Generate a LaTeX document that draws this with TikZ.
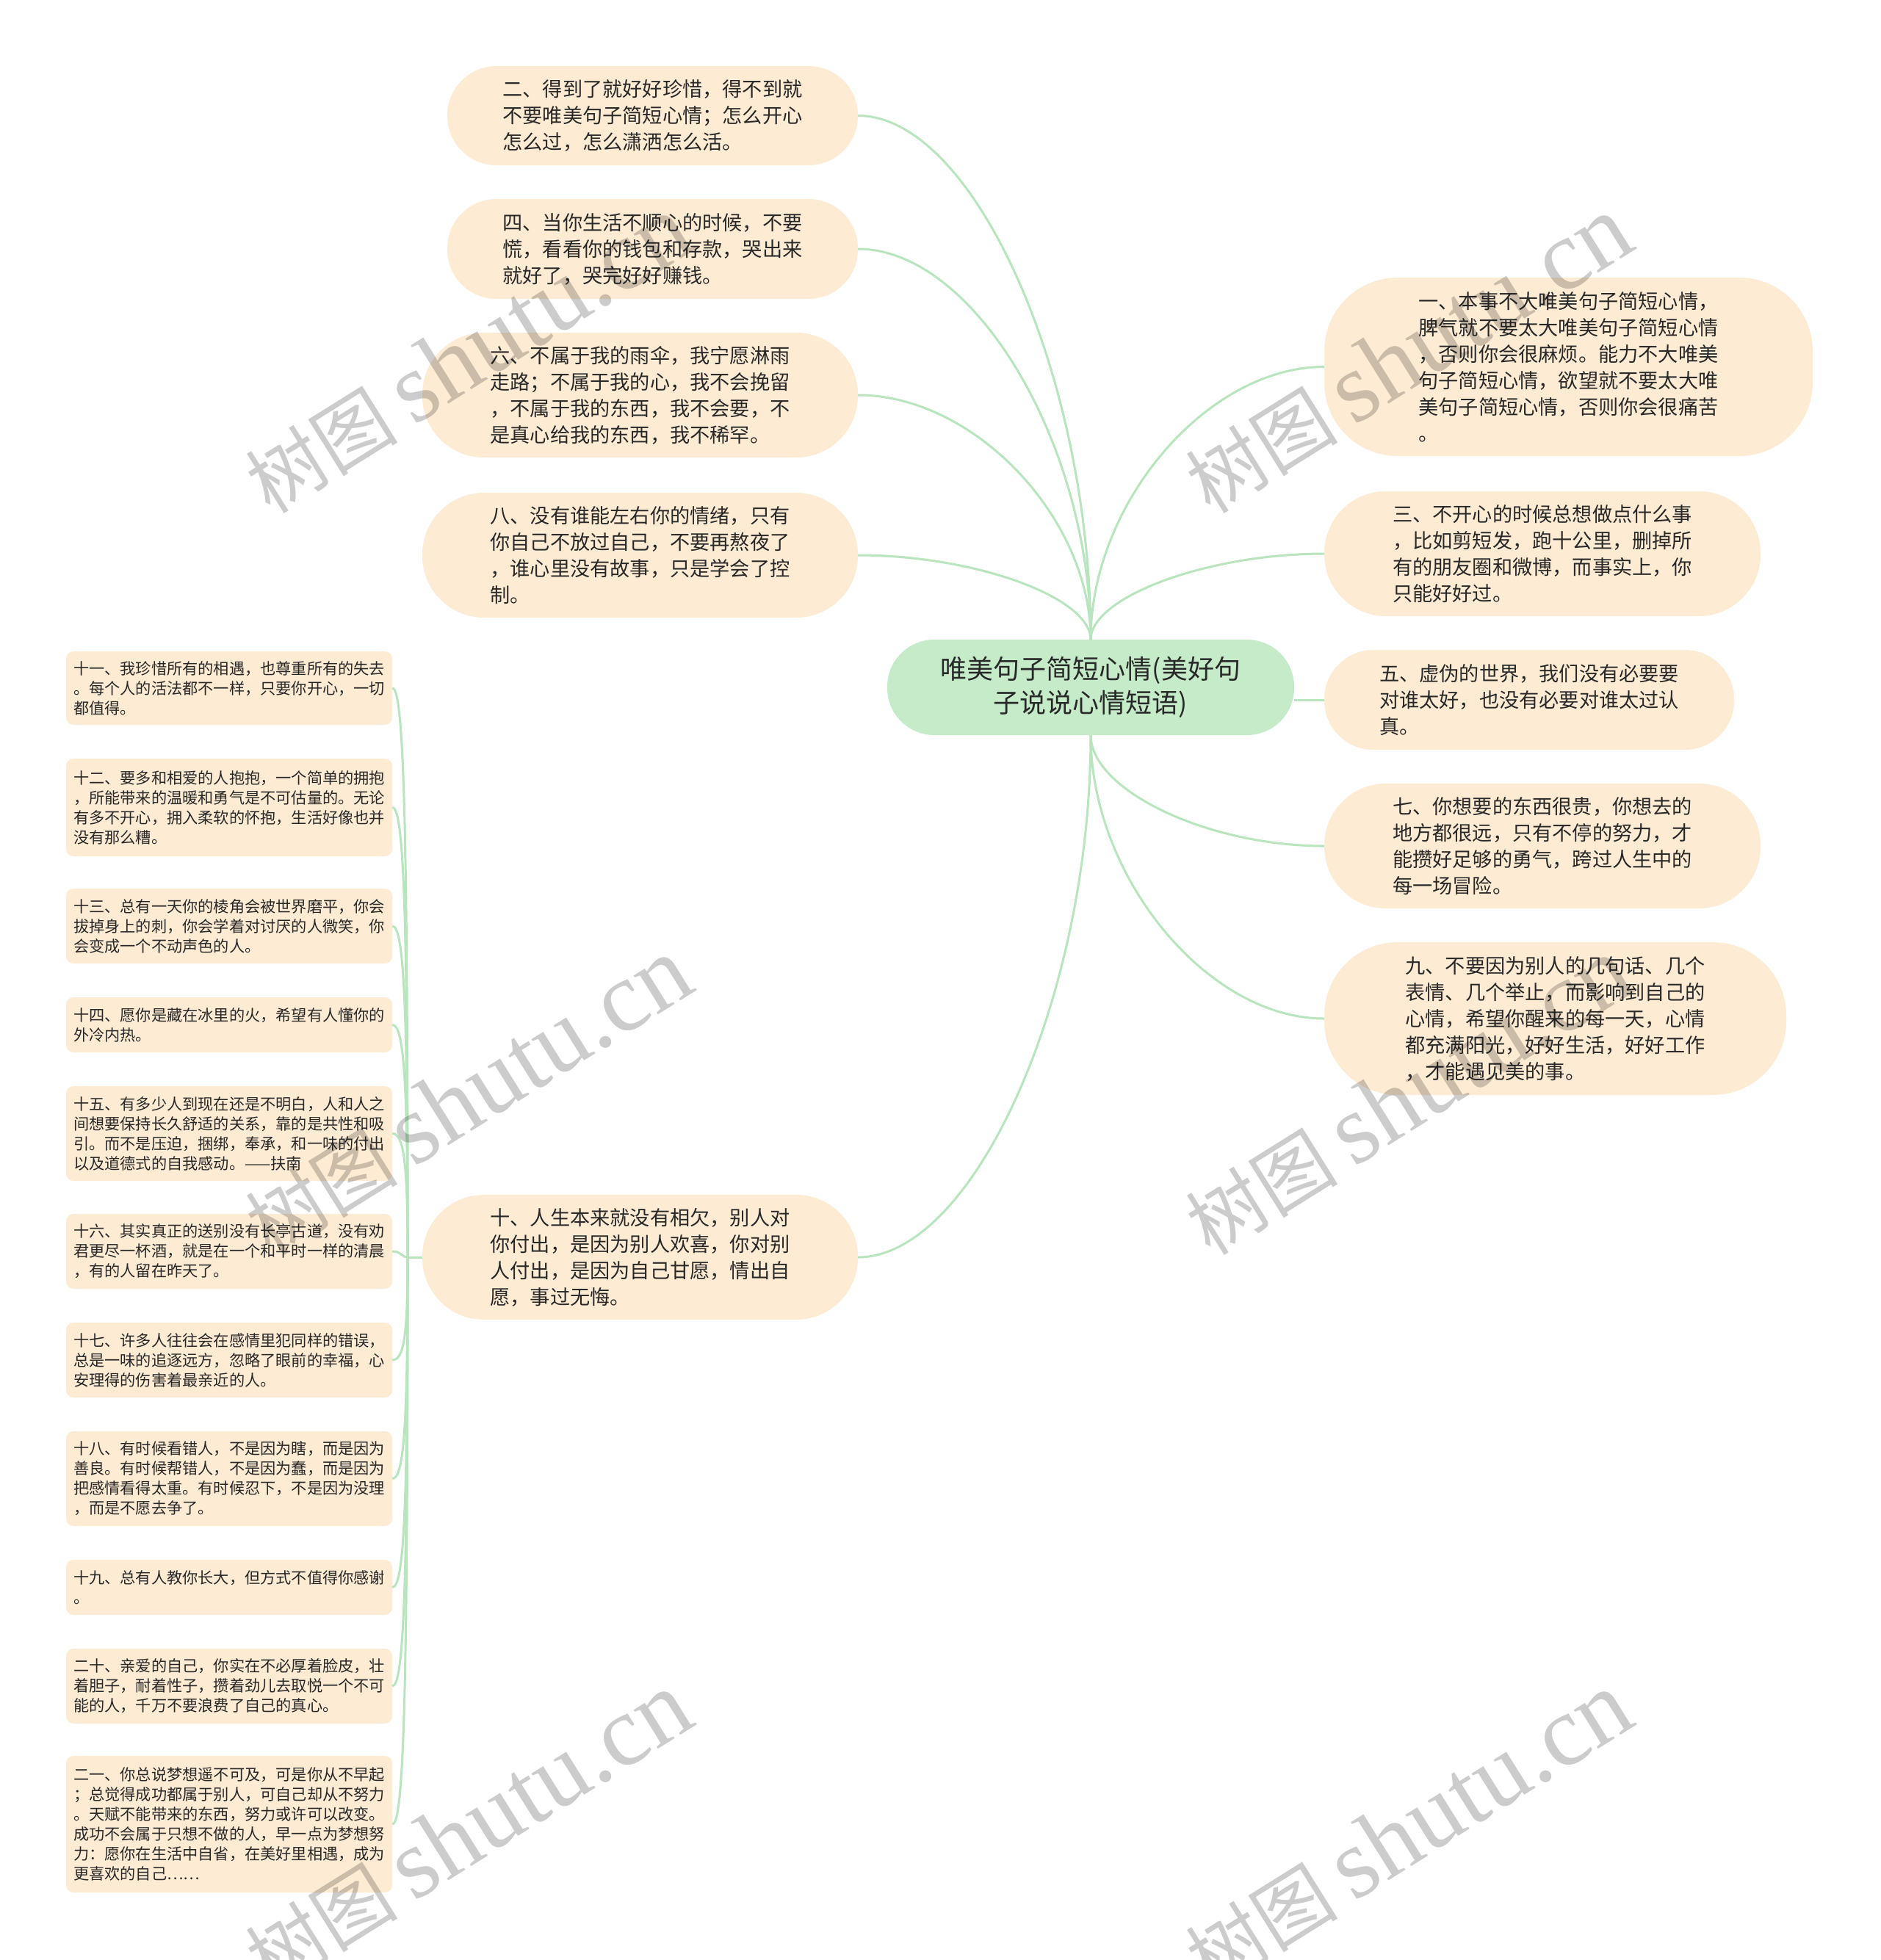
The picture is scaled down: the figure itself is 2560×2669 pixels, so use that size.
\documentclass[tikz,border=0pt]{standalone}
\usepackage{fontspec}
\newfontfamily\cjk{Noto Sans CJK SC}
\newfontfamily\wmserif{Liberation Serif}
\definecolor{peach}{RGB}{253,235,211}
\definecolor{mint}{RGB}{197,235,201}
\definecolor{linec}{RGB}{184,228,190}
\definecolor{txt}{RGB}{40,40,40}
\begin{document}
\begin{tikzpicture}[x=1pt,y=-1pt,
 conn/.style={draw=linec, line width=3pt},
 bignode/.style={fill=peach, text=txt, align=left, inner sep=0pt, font=\cjk\fontsize{27.2}{36}\selectfont},
 smallnode/.style={fill=peach, text=txt, align=left, inner sep=0pt, rounded corners=10pt, minimum width=444pt, font=\cjk\fontsize{21.2}{27}\selectfont},
 rootnode/.style={fill=mint, text=txt, align=center, inner sep=0pt, font=\cjk\fontsize{36}{46}\selectfont},
 wm/.style={anchor=base west, rotate=32, text=black, text opacity=0.2, inner sep=0pt}
]
\fill[white] (0,0) rectangle (2560,2669);
\useasboundingbox (0,0) rectangle (2560,2669);

% connector hubs
\coordinate (ct) at (1485,871);
\coordinate (cb) at (1485,1001);
\coordinate (hub) at (555,1712);

% ---------- nodes ----------
\node[rootnode, minimum width=554pt, minimum height=130pt, rounded corners=64pt] (root) at (1485,936)
 {唯美句子简短心情(美好句\\子说说心情短语)};

\node[bignode, minimum width=559pt, minimum height=135pt, rounded corners=67pt] (n2) at (888.5,157.5)
 {二、得到了就好好珍惜，得不到就\\不要唯美句子简短心情；怎么开心\\怎么过，怎么潇洒怎么活。};
\node[bignode, minimum width=559pt, minimum height=136pt, rounded corners=67pt] (n4) at (888.5,339)
 {四、当你生活不顺心的时候，不要\\慌，看看你的钱包和存款，哭出来\\就好了，哭完好好赚钱。};
\node[bignode, minimum width=593pt, minimum height=170pt, rounded corners=84pt] (n6) at (871.5,538)
 {六、不属于我的雨伞，我宁愿淋雨\\走路；不属于我的心，我不会挽留\\，不属于我的东西，我不会要，不\\是真心给我的东西，我不稀罕。};
\node[bignode, minimum width=593pt, minimum height=170pt, rounded corners=84pt] (n8) at (871.5,756)
 {八、没有谁能左右你的情绪，只有\\你自己不放过自己，不要再熬夜了\\，谁心里没有故事，只是学会了控\\制。};
\node[bignode, minimum width=593pt, minimum height=170pt, rounded corners=84pt] (n10) at (871.5,1712)
 {十、人生本来就没有相欠，别人对\\你付出，是因为别人欢喜，你对别\\人付出，是因为自己甘愿，情出自\\愿，事过无悔。};

\node[bignode, minimum width=665pt, minimum height=243pt, rounded corners=100pt] (n1) at (2135.5,499.5)
 {一、本事不大唯美句子简短心情，\\脾气就不要太大唯美句子简短心情\\，否则你会很麻烦。能力不大唯美\\句子简短心情，欲望就不要太大唯\\美句子简短心情，否则你会很痛苦\\。};
\node[bignode, minimum width=594pt, minimum height=170pt, rounded corners=84pt] (n3) at (2100,754)
 {三、不开心的时候总想做点什么事\\，比如剪短发，跑十公里，删掉所\\有的朋友圈和微博，而事实上，你\\只能好好过。};
\node[bignode, minimum width=558pt, minimum height=136pt, rounded corners=67pt] (n5) at (2082,953)
 {五、虚伪的世界，我们没有必要要\\对谁太好，也没有必要对谁太过认\\真。};
\node[bignode, minimum width=594pt, minimum height=170pt, rounded corners=84pt] (n7) at (2100,1152)
 {七、你想要的东西很贵，你想去的\\地方都很远，只有不停的努力，才\\能攒好足够的勇气，跨过人生中的\\每一场冒险。};
\node[bignode, minimum width=629pt, minimum height=208pt, rounded corners=100pt] (n9) at (2117.5,1387)
 {九、不要因为别人的几句话、几个\\表情、几个举止，而影响到自己的\\心情，希望你醒来的每一天，心情\\都充满阳光，好好生活，好好工作\\，才能遇见美的事。};

\node[smallnode, minimum height=100pt] (s11) at (312,937)
 {十一、我珍惜所有的相遇，也尊重所有的失去\\。每个人的活法都不一样，只要你开心，一切\\都值得。};
\node[smallnode, minimum height=133pt] (s12) at (312,1099.5)
 {十二、要多和相爱的人抱抱，一个简单的拥抱\\，所能带来的温暖和勇气是不可估量的。无论\\有多不开心，拥入柔软的怀抱，生活好像也并\\没有那么糟。};
\node[smallnode, minimum height=102pt] (s13) at (312,1261)
 {十三、总有一天你的棱角会被世界磨平，你会\\拔掉身上的刺，你会学着对讨厌的人微笑，你\\会变成一个不动声色的人。};
\node[smallnode, minimum height=75pt] (s14) at (312,1395.5)
 {十四、愿你是藏在冰里的火，希望有人懂你的\\外冷内热。};
\node[smallnode, minimum height=129pt] (s15) at (312,1543.5)
 {十五、有多少人到现在还是不明白，人和人之\\间想要保持长久舒适的关系，靠的是共性和吸\\引。而不是压迫，捆绑，奉承，和一味的付出\\以及道德式的自我感动。——扶南};
\node[smallnode, minimum height=102pt] (s16) at (312,1704)
 {十六、其实真正的送别没有长亭古道，没有劝\\君更尽一杯酒，就是在一个和平时一样的清晨\\，有的人留在昨天了。};
\node[smallnode, minimum height=102pt] (s17) at (312,1852)
 {十七、许多人往往会在感情里犯同样的错误，\\总是一味的追逐远方，忽略了眼前的幸福，心\\安理得的伤害着最亲近的人。};
\node[smallnode, minimum height=129pt] (s18) at (312,2013.5)
 {十八、有时候看错人，不是因为瞎，而是因为\\善良。有时候帮错人，不是因为蠢，而是因为\\把感情看得太重。有时候忍下，不是因为没理\\，而是不愿去争了。};
\node[smallnode, minimum height=75pt] (s19) at (312,2161.5)
 {十九、总有人教你长大，但方式不值得你感谢\\。};
\node[smallnode, minimum height=102pt] (s20) at (312,2296)
 {二十、亲爱的自己，你实在不必厚着脸皮，壮\\着胆子，耐着性子，攒着劲儿去取悦一个不可\\能的人，千万不要浪费了自己的真心。};
\node[smallnode, minimum height=186pt] (s21) at (312,2484)
 {二一、你总说梦想遥不可及，可是你从不早起\\；总觉得成功都属于别人，可自己却从不努力\\。天赋不能带来的东西，努力或许可以改变。\\成功不会属于只想不做的人，早一点为梦想努\\力：愿你在生活中自省，在美好里相遇，成为\\更喜欢的自己……};

% ---------- connectors ----------
\draw[conn] (ct) .. controls +(0,-357) and +(158,0) .. (n2.east);
\draw[conn] (ct) .. controls +(0,-266) and +(158,0) .. (n4.east);
\draw[conn] (ct) .. controls +(0,-166) and +(158,0) .. (n6.east);
\draw[conn] (ct) .. controls +(0,-58) and +(158,0) .. (n8.east);
\draw[conn] (ct) .. controls +(0,-186) and +(-159,0) .. (n1.west);
\draw[conn] (ct) .. controls +(0,-58) and +(-159,0) .. (n3.west);
\draw[conn] (root.east |- n5.west) -- (n5.west);
\draw[conn] (cb) .. controls +(0,75) and +(-159,0) .. (n7.west);
\draw[conn] (cb) .. controls +(0,193) and +(-159,0) .. (n9.west);
\draw[conn] (cb) .. controls +(0,355) and +(158,0) .. (n10.east);
\draw[conn] (n10.west) -- (hub);
\draw[conn] (s11.east) .. controls +(16,0) and +(0,-581) .. (hub);
\draw[conn] (s12.east) .. controls +(16,0) and +(0,-459) .. (hub);
\draw[conn] (s13.east) .. controls +(16,0) and +(0,-338) .. (hub);
\draw[conn] (s14.east) .. controls +(16,0) and +(0,-237) .. (hub);
\draw[conn] (s15.east) .. controls +(16,0) and +(0,-126) .. (hub);
\draw[conn] (s16.east) .. controls +(12,0) and +(-8,0) .. (hub);
\draw[conn] (s17.east) .. controls +(16,0) and +(0,105) .. (hub);
\draw[conn] (s18.east) .. controls +(16,0) and +(0,226) .. (hub);
\draw[conn] (s19.east) .. controls +(16,0) and +(0,337) .. (hub);
\draw[conn] (s20.east) .. controls +(16,0) and +(0,438) .. (hub);
\draw[conn] (s21.east) .. controls +(16,0) and +(0,579) .. (hub);

% ---------- watermarks ----------
\foreach \wx/\wy [count=\i] in {368/702, 1648/702, 368/1712, 1648/1712, 368/2712, 1648/2712}{
  \node[wm] (wm\i) at (\wx,\wy) {{\cjk\fontsize{104}{104}\selectfont 树图}\hspace{22pt}{\wmserif\fontsize{136}{136}\selectfont shutu.cn}};
}
\end{tikzpicture}
\end{document}
